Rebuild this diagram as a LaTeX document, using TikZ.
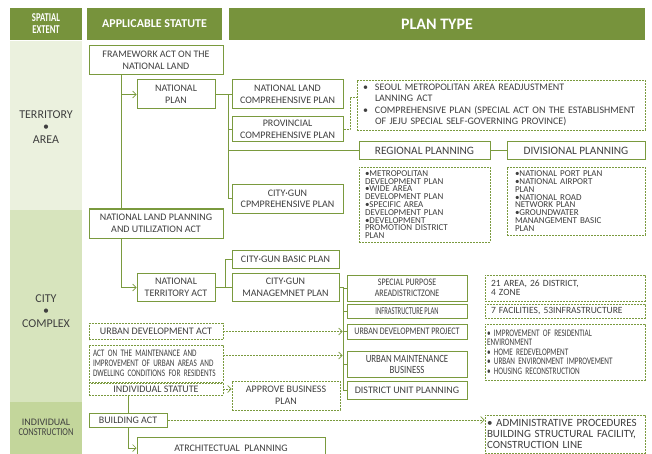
\documentclass[tikz,border=0pt]{standalone}
\usepackage{fontspec}
\usetikzlibrary{arrows.meta}
\setmainfont{Carlito}
\newfontfamily\narrowfont[FakeStretch=0.8]{Carlito}
\newfontfamily\condfont[FakeStretch=0.72]{Carlito}
\newfontfamily\tightfont[FakeStretch=0.62]{Carlito}
\definecolor{hdrg}{HTML}{77933C}
\definecolor{lineg}{HTML}{7A9A3E}
\definecolor{txt}{HTML}{3F3F3F}
\definecolor{terr}{HTML}{EBF1DE}
\definecolor{city}{HTML}{D7E4BD}
\definecolor{indv}{HTML}{C3D69B}
\tikzset{
  box/.style={draw=lineg, line width=1pt, fill=white, text=txt, align=center, inner sep=0pt, font=\fontsize{10}{11.5}\selectfont},
  dbox/.style={box, line width=0.7pt, dash pattern=on 2pt off 1pt},
  hdr/.style={fill=hdrg, text=white, inner sep=0pt, align=center, minimum height=32pt},
  band/.style={inner sep=0pt, minimum width=72pt},
  lbl/.style={text=txt, align=center, inner sep=0pt, font=\fontsize{12}{12.5}\selectfont},
  link/.style={draw=lineg, line width=1pt},
  dlink/.style={draw=lineg, line width=0.7pt, dash pattern=on 2pt off 1pt},
  tip/.style={-{Straight Barb[length=3.5pt,width=7pt,line width=0.7pt]}},
}
\begin{document}
\begin{tikzpicture}[x=1pt,y=-1pt]
  \useasboundingbox (0,0) rectangle (652,454);
  \clip (0,0) rectangle (652,454);
  \node[hdr, minimum width=72pt, font=\condfont\bfseries\fontsize{12}{12}\selectfont] (hext) at (46,24) {SPATIAL\\EXTENT};
  \node[hdr, minimum width=135pt, font=\bfseries\fontsize{12}{12}\selectfont] (hstat) at (154.5,24) {APPLICABLE STATUTE};
  \node[hdr, minimum width=416pt, font=\bfseries\fontsize{16}{16}\selectfont] (hplan) at (437,24) {PLAN TYPE};
  \node[band, fill=terr, minimum height=169pt] (bterr) at (46,125.5) {};
  \node[band, fill=city, minimum height=192pt] (bcity) at (46,306) {};
  \node[band, fill=indv, minimum height=52pt] (bind) at (46,428) {};
  \node[lbl] (lterr) at (46,127) {TERRITORY\\•\\AREA};
  \node[lbl] (lcity) at (46,311) {CITY\\•\\COMPLEX};
  \node[lbl, font=\fontsize{10}{10}\selectfont] (lind) at (46,427) {INDIVIDUAL\\{\narrowfont\fontsize{10.5}{10}\selectfont CONSTRUCTION}};

  \node[box, minimum width=134pt, minimum height=29pt] (fw) at (156,60.5) {FRAMEWORK ACT ON THE\\NATIONAL LAND};
  \node[box, minimum width=78pt, minimum height=29pt] (np) at (176,94.5) {NATIONAL\\PLAN};
  \node[box, minimum width=111pt, minimum height=29pt] (nlcp) at (287.5,94.5) {NATIONAL LAND\\COMPREHENSIVE PLAN};
  \node[box, minimum width=111pt, minimum height=25pt] (pcp) at (287.5,129.5) {PROVINCIAL\\COMPREHENSIVE PLAN};
  \node[box, minimum width=111pt, minimum height=28pt] (cgcp) at (287.5,199) {CITY·GUN\\CPMPREHENSIVE PLAN};
  \node[dbox, text width=276pt, inner xsep=6pt, minimum height=50pt, align=left, font=\fontsize{10}{11.3}\selectfont] (seoul) at (501,105) {\makebox[12pt][l]{•}SEOUL METROPOLITAN AREA READJUSTMENT\\
    \hspace*{12pt}LANNING ACT\\
    \makebox[12pt][l]{•}COMPREHENSIVE PLAN (SPECIAL ACT ON THE ESTABLISHMENT\\
    \hspace*{12pt}OF JEJU SPECIAL SELF-GOVERNING PROVINCE)};
  \node[box, minimum width=131pt, minimum height=18pt, font=\fontsize{11.3}{12}\selectfont] (reg) at (424.5,151) {REGIONAL PLANNING};
  \node[box, minimum width=138pt, minimum height=18pt, font=\fontsize{11.3}{12}\selectfont] (div) at (576,151) {DIVISIONAL PLANNING};
  \node[dbox, text width=119pt, inner xsep=6pt, minimum height=75pt, align=left, font=\fontsize{9}{7.8}\selectfont] (rlist) at (424.5,204.5) {•METROPOLITAN\\DEVELOPMENT PLAN\\•WIDE AREA\\DEVELOPMENT PLAN\\•SPECIFIC AREA\\DEVELOPMENT PLAN\\•DEVELOPMENT\\PROMOTION DISTRICT\\PLAN};
  \node[dbox, text width=122pt, inner xsep=8pt, minimum height=68pt, align=left, font=\fontsize{9}{7.8}\selectfont] (dlist) at (576,201) {•NATIONAL PORT PLAN\\•NATIONAL AIRPORT\\PLAN\\•NATIONAL ROAD\\NETWORK PLAN\\•GROUNDWATER\\MANANGEMENT BASIC\\PLAN};

  \node[box, minimum width=134pt, minimum height=29pt] (nlpua) at (156,223.5) {NATIONAL LAND PLANNING\\AND UTILIZATION ACT};
  \node[box, minimum width=78pt, minimum height=28pt] (nta) at (176,287.5) {NATIONAL\\TERRITORY ACT};
  \node[box, minimum width=107pt, minimum height=18pt] (cgbp) at (285.5,259) {CITY·GUN BASIC PLAN};
  \node[box, minimum width=107pt, minimum height=28pt] (cgmp) at (285.5,287.5) {CITY·GUN\\MANAGEMNET PLAN};
  \node[box, minimum width=120pt, minimum height=26pt, font=\narrowfont\fontsize{10}{11}\selectfont] (spaz) at (407,288) {SPECIAL PURPOSE\\AREADISTRICTZONE};
  \node[box, minimum width=120pt, minimum height=14pt, font=\tightfont\fontsize{10.5}{10}\selectfont] (infra) at (407,311) {INFRASTRUCTURE PLAN};
  \node[box, minimum width=120pt, minimum height=15pt, font=\narrowfont\fontsize{10}{11}\selectfont] (udp) at (407,331.5) {URBAN DEVELOPMENT PROJECT};
  \node[box, minimum width=120pt, minimum height=26pt, font=\narrowfont\fontsize{11}{11}\selectfont] (umb) at (407,364) {URBAN MAINTENANCE\\BUSINESS};
  \node[box, minimum width=120pt, minimum height=18pt] (dup) at (407,390) {DISTRICT UNIT PLANNING};
  \node[dbox, text width=148pt, inner xsep=6pt, minimum height=26pt, align=left, font=\fontsize{9.5}{9.5}\selectfont] (r21) at (565,288) {21 AREA, 26 DISTRICT,\\4 ZONE};
  \node[dbox, text width=148pt, inner xsep=6pt, minimum height=14pt, align=left, font=\fontsize{9.5}{9.5}\selectfont] (r7) at (565,311) {7 FACILITIES, 53INFRASTRUCTURE};
  \node[dbox, text width=156pt, inner xsep=2pt, minimum height=56pt, align=left, font=\condfont\fontsize{10}{9.5}\selectfont] (rimp) at (565,352) {• IMPROVEMENT OF RESIDENTIAL\\ENVIRONMENT\\• HOME REDEVELOPMENT\\• URBAN ENVIRONMENT IMPROVEMENT\\• HOUSING RECONSTRUCTION};

  \node[dbox, minimum width=134pt, minimum height=16pt] (uda) at (156,331.5) {URBAN DEVELOPMENT ACT};
  \node[dbox, text width=126pt, inner xsep=4pt, minimum height=37pt, align=left, font=\condfont\fontsize{10}{10}\selectfont] (aom) at (156,363.5) {ACT ON THE MAINTENANCE AND\\IMPROVEMENT OF URBAN AREAS AND\\DWELLING CONDITIONS FOR RESIDENTS};
  \node[dbox, minimum width=134pt, minimum height=12pt] (ist) at (156,389) {INDIVIDUAL STATUTE};
  \node[dbox, minimum width=108pt, minimum height=29pt] (abp) at (286,395.5) {APPROVE BUSINESS\\PLAN};
  \node[box, minimum width=78pt, minimum height=14pt] (ba) at (128,420) {BUILDING ACT};
  \node[box, minimum width=188pt, minimum height=22pt] (arch) at (231,448) {ATRCHITECTUAL\ \ PLANNING};
  \node[dbox, text width=156pt, inner xsep=2pt, minimum height=38pt, align=left, font=\fontsize{11}{11}\selectfont] (admin) at (565,434) {• ADMINISTRATIVE PROCEDURES\\BUILDING STRUCTURAL FACILITY,\\CONSTRUCTION LINE};

  \draw[link, line width=0.6pt] ([xshift=-35pt]fw.south) -- ([xshift=-35pt]nlpua.north);
  \draw[link, tip] ([xshift=-35pt]fw.south |- np.west) -- (np.west);
  \coordinate (tv) at (228,94.5);
  \draw[link] (np.east) -- (nlcp.west);
  \draw[link] (tv) |- (cgcp.west);
  \draw[link] (tv |- pcp.west) -- (pcp.west);
  \draw[link] (tv |- reg.west) -- (reg.west);
  \draw[link] (reg.east) -- (div.west);
  \coordinate (sj) at (350,97);
  \draw[dlink] (pcp.east) -| (sj) -- ([yshift=8pt]seoul.west);

  \draw[link, tip] ([xshift=-35pt]nlpua.south) |- (nta.west);
  \coordinate (tb) at (225,287.5);
  \draw[link] (nta.east) -- (cgmp.west);
  \draw[link] (tb) |- (cgbp.west);
  \coordinate (tc) at (343,287.5);
  \draw[link] (cgmp.east) -- (tc) |- (dup.west);
  \foreach \n in {spaz,infra,udp,umb}
    \draw[link] (tc |- \n.west) -- (\n.west);
  \draw[dlink, tip] (uda.east) -- ([xshift=-4pt]uda.east -| udp.west);
  \draw[dlink, tip] ([yshift=8pt]aom.east) -- ([xshift=-4pt,yshift=8pt]aom.east -| umb.west);
  \draw[dlink, tip] (ist.east) -- (ist.east -| abp.west);
  \draw[link] (ba.north |- ist.south) -- (ba.north);
  \draw[link, tip] (ba.south) |- (arch.west);
  \draw[dlink, tip] (ba.east) -- (ba.east -| admin.west);
\end{tikzpicture}
\end{document}
